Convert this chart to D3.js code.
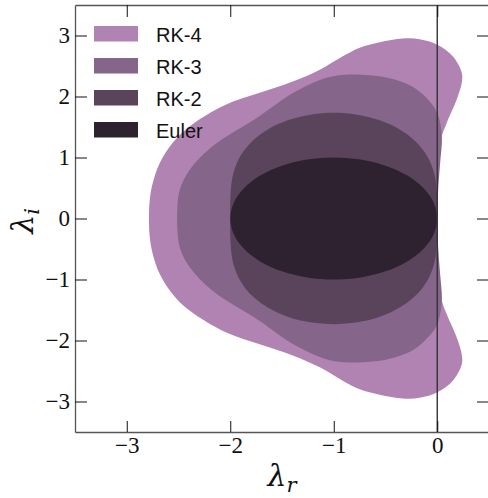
<!DOCTYPE html>
<html><head><meta charset="utf-8">
<script src="https://cdn.jsdelivr.net/npm/d3@7"></script>
<style>body{margin:0;background:#fff;overflow:hidden}
.ser{font-family:"Liberation Serif","Times New Roman",serif}
.lab{font-family:"DejaVu Serif",serif}</style>
</head><body>
<svg id="c" width="488" height="498"></svg>
<script>
const methods = ["RK-4", "RK-3", "RK-2", "Euler"];
const colors = ["#b083b2", "#86658a", "#5a445c", "#2f2230"];

// boundary points of each stability region [lambda_r, lambda_i]
const rk4 = [[0,0],[0.005,0.63],[0.015,0.96],[0.034,1.29],[0.092,1.57],[0.188,1.95],[0.237,2.23],[0.237,2.39],[0.15,2.66],[0,2.85],[-0.169,2.94],[-0.333,2.95],[-0.556,2.89],[-0.749,2.8],[-0.913,2.66],[-1.135,2.44],[-1.396,2.245],[-1.715,2.06],[-2.05,1.86],[-2.4,1.5],[-2.556,1.24],[-2.681,0.91],[-2.749,0.58],[-2.778,0.3],[-2.785,0],
  [-2.778,-0.3],[-2.749,-0.58],[-2.681,-0.91],[-2.556,-1.24],[-2.4,-1.5],[-2.05,-1.86],[-1.715,-2.06],[-1.396,-2.245],[-1.135,-2.44],[-0.913,-2.66],[-0.749,-2.8],[-0.556,-2.89],[-0.333,-2.95],[-0.169,-2.94],[0,-2.85],[0.15,-2.66],[0.237,-2.39],[0.237,-2.23],[0.188,-1.95],[0.092,-1.57],[0.034,-1.29],[0.015,-0.96],[0.005,-0.63]];
const rk3 = [[0,0],[0.01,0.5],[0.03,0.95],[0.045,1.3],[0.03,1.55],[0,1.732],[-0.072,1.92],[-0.237,2.16],[-0.459,2.3],[-0.652,2.35],[-0.845,2.36],[-1.063,2.31],[-1.391,2.06],[-1.715,1.68],[-2.174,1.18],[-2.391,0.8],[-2.488,0.47],[-2.512,0.14],[-2.513,0],
  [-2.512,-0.14],[-2.488,-0.47],[-2.391,-0.8],[-2.174,-1.18],[-1.715,-1.68],[-1.391,-2.06],[-1.063,-2.31],[-0.845,-2.36],[-0.652,-2.35],[-0.459,-2.3],[-0.237,-2.16],[-0.072,-1.92],[0,-1.732],[0.03,-1.55],[0.045,-1.3],[0.03,-0.95],[0.01,-0.5]];
const rk2 = [[0,0],[-0.0025,0.384],[-0.028,0.728],[-0.098,1.024],[-0.214,1.272],[-0.371,1.469],[-0.562,1.614],[-0.775,1.702],[-1,1.732],[-1.225,1.702],[-1.438,1.614],[-1.629,1.469],[-1.786,1.272],[-1.902,1.024],[-1.972,0.728],[-1.9975,0.384],[-2,0],
  [-1.9975,-0.384],[-1.972,-0.728],[-1.902,-1.024],[-1.786,-1.272],[-1.629,-1.469],[-1.438,-1.614],[-1.225,-1.702],[-1,-1.732],[-0.775,-1.702],[-0.562,-1.614],[-0.371,-1.469],[-0.214,-1.272],[-0.098,-1.024],[-0.028,-0.728],[-0.0025,-0.384]];
const euler = [[0,0],[-0.034,0.259],[-0.134,0.5],[-0.293,0.707],[-0.5,0.866],[-0.741,0.966],[-1,1],[-1.259,0.966],[-1.5,0.866],[-1.707,0.707],[-1.866,0.5],[-1.966,0.259],[-2,0],
  [-1.966,-0.259],[-1.866,-0.5],[-1.707,-0.707],[-1.5,-0.866],[-1.259,-0.966],[-1,-1],[-0.741,-0.966],[-0.5,-0.866],[-0.293,-0.707],[-0.134,-0.5],[-0.034,-0.259]];
const regions = [rk4, rk3, rk2, euler];

const xTicks = [-3, -2, -1, 0];
const yTicks = [-3, -2, -1, 0, 1, 2, 3];

const svg = d3.select("#c");
const x = d3.scaleLinear().domain([-3.5, 0.5]).range([75, 489]);
const y = d3.scaleLinear().domain([-3.5, 3.5]).range([432, 5]);

const line = d3.line().x(d => x(d[0])).y(d => y(d[1])).curve(d3.curveCatmullRomClosed.alpha(0.5));

svg.append("defs").append("clipPath").attr("id", "clip")
  .append("rect").attr("x", 75).attr("y", 5).attr("width", 414).attr("height", 427);

const g = svg.append("g").attr("clip-path", "url(#clip)");
regions.forEach((pts, i) => {
  g.append("path").attr("d", line(pts)).attr("fill", colors[i]).attr("stroke", "none");
});

// vertical line at lambda_r = 0
g.append("line").attr("x1", x(0)).attr("x2", x(0)).attr("y1", y(3.5)).attr("y2", y(-3.5))
  .attr("stroke", "#333").attr("stroke-width", 1.4);

const fmt = d3.format("d");
function styleAxis(sel, labels) {
  sel.attr("font-family", null).attr("font-size", null);
  sel.select(".domain").attr("stroke", "#555").attr("stroke-width", 1.3);
  sel.selectAll(".tick line").attr("stroke", "#111").attr("stroke-width", 1);
  sel.selectAll(".tick text").attr("fill", "#111").attr("class", "ser").style("font-size", "23px");
  if (!labels) sel.selectAll(".tick text").remove();
}

svg.append("g").attr("transform", "translate(0,432)")
  .call(d3.axisBottom(x).tickValues(xTicks).tickFormat(fmt).tickSizeInner(-11).tickSizeOuter(0).tickPadding(5))
  .call(s => styleAxis(s, true));
svg.append("g").attr("transform", "translate(0,5)")
  .call(d3.axisTop(x).tickValues(xTicks).tickSizeInner(-12).tickSizeOuter(0))
  .call(s => styleAxis(s, false));
svg.append("g").attr("transform", "translate(75,0)")
  .call(d3.axisLeft(y).tickValues(yTicks).tickFormat(fmt).tickSizeInner(-12).tickSizeOuter(0).tickPadding(5))
  .call(s => styleAxis(s, true));
svg.append("g").attr("transform", "translate(489,0)")
  .call(d3.axisRight(y).tickValues(yTicks).tickSizeInner(-12).tickSizeOuter(0))
  .call(s => styleAxis(s, false));

// legend
const leg = svg.append("g");
methods.forEach((m, i) => {
  leg.append("rect").attr("x", 94).attr("y", 26 + i * 32).attr("width", 44).attr("height", 15.5)
    .attr("fill", colors[i]);
  leg.append("text").attr("x", 156).attr("y", 41.5 + i * 32).text(m)
    .style("font-family", "'Liberation Sans', Arial, sans-serif").style("font-size", "20px").attr("fill", "#111");
});

// axis labels
const xl = svg.append("text").attr("class", "lab").attr("x", 282).attr("y", 486).attr("text-anchor", "middle")
  .style("font-style", "italic").style("font-size", "30px").attr("fill", "#111");
xl.append("tspan").text("λ");
xl.append("tspan").text("r").attr("dy", 6).style("font-size", "21px");

const yl = svg.append("text").attr("class", "lab").attr("transform", "translate(33,221) rotate(-90)").attr("text-anchor", "middle")
  .style("font-style", "italic").style("font-size", "30px").attr("fill", "#111");
yl.append("tspan").text("λ");
yl.append("tspan").text("i").attr("dy", 6).style("font-size", "21px");
</script>
</body></html>
